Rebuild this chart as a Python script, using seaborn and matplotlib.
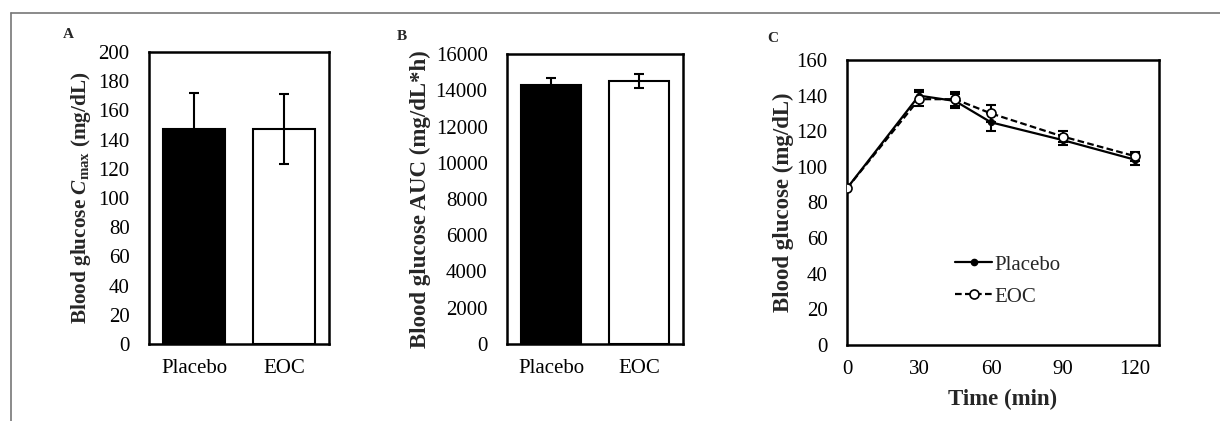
import numpy as np
import pandas as pd
import matplotlib
matplotlib.use("Agg")
import matplotlib.pyplot as plt
import seaborn as sns
from matplotlib.lines import Line2D

# Data
groups = ["Placebo", "EOC"]
cmax_mean = [147, 147]
cmax_err = [25, 24]
auc_mean = [14300, 14500]
auc_err = [400, 400]

time_min = [0, 30, 45, 60, 90, 120]
placebo_glc = [88, 140, 137, 125, 115, 104]
placebo_err = [0, 3, 4, 5, 3, 3]
eoc_glc = [88, 138, 138, 130, 117, 106]
eoc_err = [0, 4, 4, 5, 3, 2.5]

sns.set_style("white")
plt.rcParams["font.family"] = ["Liberation Serif", "DejaVu Serif"]
plt.rcParams["mathtext.fontset"] = "custom"
plt.rcParams["mathtext.rm"] = "Liberation Serif"
plt.rcParams["mathtext.it"] = "Liberation Serif:italic:bold"
plt.rcParams["mathtext.bf"] = "Liberation Serif:bold"

fig = plt.figure(figsize=(12.2, 4.21), dpi=100)
W, H = 1220, 421


def place(l, t, r, b):
    return fig.add_axes([l / W, 1 - b / H, (r - l) / W, (b - t) / H])


ax_a = place(149, 52, 329, 344)
ax_b = place(507, 54, 683, 344)
ax_c = place(847, 60, 1159, 345)

tick_fs = 15
lab_fs = 16.5


def style_axes(ax):
    for sp in ax.spines.values():
        sp.set_visible(True)
        sp.set_linewidth(1.8)
        sp.set_color("black")
    ax.tick_params(length=0, labelsize=tick_fs, colors="black")
    ax.tick_params(axis="y", pad=14)
    ax.tick_params(axis="x", pad=11)


# Panel A
df_a = pd.DataFrame({"group": groups, "val": cmax_mean})
sns.barplot(data=df_a, x="group", y="val", hue="group", palette=["black", "white"],
            edgecolor="black", linewidth=1.5, width=0.68, legend=False, ax=ax_a)
ax_a.errorbar(range(len(groups)), cmax_mean, yerr=cmax_err, fmt="none",
              ecolor="black", elinewidth=1.5, capsize=3.5, capthick=1.5)
ax_a.set_ylim(0, 200)
ax_a.set_yticks(np.arange(0, 201, 20))
ax_a.set_xlim(-0.5, 1.5)
ax_a.set_xlabel("")
ax_a.set_ylabel(r"Blood glucose $\mathit{C}_{\mathbf{max}}$ (mg/dL)", fontsize=15.3,
                fontweight="bold", labelpad=4)
style_axes(ax_a)

# Panel B
df_b = pd.DataFrame({"group": groups, "val": auc_mean})
sns.barplot(data=df_b, x="group", y="val", hue="group", palette=["black", "white"],
            edgecolor="black", linewidth=1.5, width=0.69, legend=False, ax=ax_b)
ax_b.errorbar(range(len(groups)), auc_mean, yerr=auc_err, fmt="none",
              ecolor="black", elinewidth=1.5, capsize=3.5, capthick=1.5)
ax_b.set_ylim(0, 16000)
ax_b.set_yticks(np.arange(0, 16001, 2000))
ax_b.set_xlim(-0.5, 1.5)
ax_b.set_xlabel("")
ax_b.set_ylabel("Blood glucose AUC (mg/dL*h)", fontsize=lab_fs,
                fontweight="bold", labelpad=3)
style_axes(ax_b)

# Panel C
df_c = pd.DataFrame({
    "time": time_min * 2,
    "glucose": placebo_glc + eoc_glc,
    "group": ["Placebo"] * len(time_min) + ["EOC"] * len(time_min),
})
sns.lineplot(data=df_c[df_c.group == "Placebo"], x="time", y="glucose",
             color="black", linewidth=1.6, marker="o", markersize=4.5,
             markerfacecolor="black", markeredgecolor="black", ax=ax_c, zorder=3)
sns.lineplot(data=df_c[df_c.group == "EOC"], x="time", y="glucose",
             color="black", linewidth=1.6, linestyle=(0, (3, 1.5)), marker="o",
             markersize=6.5, markerfacecolor="white", markeredgecolor="black",
             markeredgewidth=1.2, ax=ax_c, zorder=4)
ax_c.errorbar(time_min, placebo_glc, yerr=placebo_err, fmt="none", ecolor="black",
              elinewidth=1.5, capsize=3.5, capthick=1.5, zorder=2)
ax_c.errorbar(time_min, eoc_glc, yerr=eoc_err, fmt="none", ecolor="black",
              elinewidth=1.5, capsize=3.5, capthick=1.5, zorder=2)
ax_c.set_xlim(0, 130)
ax_c.set_ylim(0, 160)
ax_c.set_xticks([0, 30, 60, 90, 120])
ax_c.set_yticks(np.arange(0, 161, 20))
ax_c.set_xlabel("Time (min)", fontsize=lab_fs, fontweight="bold", labelpad=7)
ax_c.set_ylabel("Blood glucose (mg/dL)", fontsize=lab_fs, fontweight="bold", labelpad=2)
style_axes(ax_c)

handles = [
    Line2D([], [], color="black", lw=1.6, marker="o", markersize=4.5,
           markerfacecolor="black"),
    Line2D([], [], color="black", lw=1.6, linestyle=(0, (3, 1.5)), marker="o",
           markersize=6.5, markerfacecolor="white", markeredgewidth=1.2),
]
ax_c.legend(handles, groups, loc="center", bbox_to_anchor=(0.515, 0.225),
            frameon=False, fontsize=tick_fs, handlelength=1.75, handletextpad=0.1,
            labelspacing=0.6)

# Panel letters
for lbl, x, y in [("A", 68, 35), ("B", 402, 37), ("C", 773, 39)]:
    fig.text(x / W, 1 - y / H, lbl, fontsize=11, fontweight="bold",
             ha="center", va="center")

# Outer frame lines (top and left)
fig.add_artist(Line2D([11 / W, 1], [1 - 13 / H, 1 - 13 / H], color="#777777", lw=1.2))
fig.add_artist(Line2D([11 / W, 11 / W], [0, 1 - 13 / H], color="#777777", lw=1.2))

fig.savefig("out.png", dpi=100)
